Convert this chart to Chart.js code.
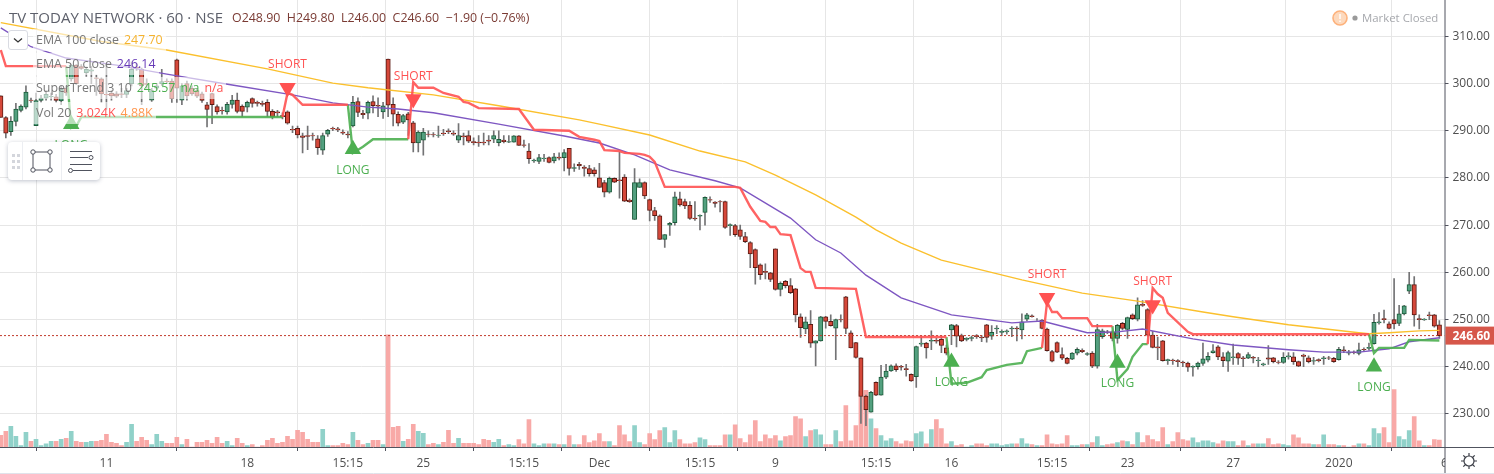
<!DOCTYPE html>
<html>
<head>
<meta charset="utf-8">
<title>TV TODAY NETWORK</title>
<script src="https://cdn.jsdelivr.net/npm/chart.js"></script>
<style>
  html, body { margin: 0; padding: 0; background: #fff; }
  body { font-family: "Open Sans", sans-serif; width: 1494px; height: 474px; overflow: hidden; position: relative; }
  #wrap { position: absolute; left: 0; top: 0; width: 1494px; height: 474px; }
  .txt { position: absolute; white-space: nowrap; }
  #title { left: 9px; top: 7px; font-size: 15px; line-height: 20px; color: #5d606b; }
  #ohlc { left: 232px; top: 8px; font-size: 12.4px; line-height: 20px; color: #7a3a33; }
  .row { position: absolute; left: 33px; height: 22px; line-height: 22px; padding: 0 3px; font-size: 12.4px; color: #777; background: rgba(255,255,255,.6); white-space: nowrap; }
  .row span { margin-left: 5px; }
  #collapse { position: absolute; left: 8px; top: 30px; width: 20px; height: 20px; border: 1px solid #d9dbe2; border-radius: 3px; background: #fff; box-sizing: border-box; }
  #tools { position: absolute; left: 8px; top: 142px; width: 92px; height: 38px; background: #fff; border-radius: 4px; box-shadow: 0 1px 4px rgba(70,80,110,.35); }
  #market { left: 1362px; top: 8px; font-size: 11.4px; line-height: 20px; color: #a6a8ad; }
  #gear { position: absolute; left: 1460px; top: 452px; }
</style>
</head>
<body>
<div id="wrap"><canvas id="chart" width="1494" height="474"></canvas></div>

<div class="txt" id="title">TV TODAY NETWORK · 60 · NSE</div>
<div class="txt" id="ohlc">O248.90&nbsp; H249.80&nbsp; L246.00&nbsp; C246.60&nbsp; −1.90 (−0.76%)</div>

<div id="collapse"><svg width="18" height="18"><path d="M5 7.5 L9 11 L13 7.5" fill="none" stroke="#333" stroke-width="1.3"/></svg></div>
<div class="row" style="top:29px">EMA 100 close<span style="color:#f5b32f">247.70</span></div>
<div class="row" style="top:53px">EMA 50 close<span style="color:#673ab7">246.14</span></div>
<div class="row" style="top:77px">SuperTrend 3 10<span style="color:#4caf50">245.57</span><span style="color:#4caf50">n/a</span><span style="color:#ff5252">n/a</span></div>
<div class="row" style="top:102px">Vol 20<span style="color:#ff5252">3.024K</span><span style="color:#ff9850">4.88K</span></div>

<div id="tools">
  <svg width="92" height="38">
    <g fill="#d4d6dc">
      <rect x="4" y="12" width="3" height="3"/><rect x="9" y="12" width="3" height="3"/>
      <rect x="4" y="18" width="3" height="3"/><rect x="9" y="18" width="3" height="3"/>
      <rect x="4" y="24" width="3" height="3"/><rect x="9" y="24" width="3" height="3"/>
    </g>
    <path d="M14.5 0 V38 M53.5 0 V38" stroke="#eceef2"/>
    <g fill="#fff" stroke="#50535e" stroke-width="1">
      <rect x="25" y="10" width="17" height="18"/>
      <circle cx="25" cy="10" r="2.2"/><circle cx="42" cy="10" r="2.2"/>
      <circle cx="25" cy="28" r="2.2"/><circle cx="42" cy="28" r="2.2"/>
    </g>
    <g stroke="#50535e" stroke-width="1" fill="#fff">
      <path d="M62 9.5 H84 M62 15.5 H80 M62 22.5 H84 M65 28.5 H84"/>
      <circle cx="83" cy="15.5" r="2"/><circle cx="62.5" cy="28.5" r="2"/>
    </g>
  </svg>
</div>

<svg style="position:absolute;left:1331px;top:9px" width="18" height="18">
  <circle cx="9" cy="9" r="7" fill="#fdd9bd" stroke="#fdb27c" stroke-width="1.6"/>
  <path d="M9 5 V10 M9 11.5 V13" stroke="#fff" stroke-width="1.4"/>
</svg>
<svg style="position:absolute;left:1352px;top:15px" width="6" height="6"><circle cx="3" cy="3" r="2.6" fill="#9a9a9a"/></svg>
<div class="txt" id="market">Market Closed</div>

<svg id="gear" width="18" height="18" viewBox="0 0 18 18">
  <g stroke="#3c3f48" stroke-width="1.2" fill="none">
    <circle cx="9" cy="9" r="5"/>
    <path d="M9 1 V4 M9 14 V17 M1 9 H4 M14 9 H17 M3.3 3.3 L5.5 5.5 M12.5 12.5 L14.7 14.7 M14.7 3.3 L12.5 5.5 M5.5 12.5 L3.3 14.7"/>
  </g>
</svg>

<script>
// hourly bars, left to right
const opens = [
  297.4,292.8,289.8,292,294.3,295,296.5,291.1,296.4,296.9,
  297.2,297.2,296.3,299,301,303.9,303.6,302.3,302.6,301.2,
  301,297.7,298,297.8,297.8,297.7,300,303.5,303,300,
  296.5,299,300,300.5,300.5,305,296.5,300,299,298.5,
  297.8,295.5,297.9,295.1,294.3,294,295.6,296.5,295.2,295,
  296.8,296,295.8,296,294.1,294,293.2,294,290.3,290.5,
  288.9,289,289,288.3,285.9,289.3,290.5,290.4,289.7,289.3,
  291,296.2,293.7,293.7,296.2,295.4,294,305.2,295.6,293.5,
  291.8,293.6,291.7,287.4,288,289.3,289.2,289,289.5,290,
  289.5,288,288.9,289,287.7,287.6,287.6,288,288.2,287.5,
  288,287.6,287.6,288.9,287,285.7,283.6,283.5,284.1,284.3,
  283.6,284.4,284.3,286.3,282,282.9,282.3,282,281.7,280,
  279,277,279.9,279.6,280.2,275.3,271.2,278,279,275.4,
  273.1,272,267,270,270.5,275.6,275,274.2,271.5,271.9,
  272.7,275.4,274.9,275,275,269.9,269.9,269,267.6,266.3,
  264.8,261.6,260.2,259.9,265,256.4,258.1,257.2,256.5,250.6,
  248,249,245,245.5,250.6,249.6,248.2,250,254.8,247.2,
  245.1,241.9,233.8,230.4,236.7,234,237.8,239.1,240.2,240.1,
  239.6,238.4,237.9,244.8,245,245.4,245.6,245.8,244,247.8,
  248.7,246.6,245.8,246,246.6,246.3,248.9,246.5,248,247.3,
  247.4,248,248.2,247.8,250.1,250.8,250,249.9,248,243.2,
  245.1,242.6,241.8,241.6,242.9,243.5,242.6,242.9,240.1,246.4,
  247.4,247.4,246,249.2,247.9,251,250.1,253.2,252.1,246.7,
  244.2,245.5,241.3,241.4,241.3,241,240.8,239.9,240,240.7,
  241.4,243,244.2,242.1,241.2,241.9,242.8,241.9,241.8,242,
  241.3,240.4,241.9,241.9,241,240.9,242.1,242.1,241.1,242.5,
  241.9,241.2,241.5,241.7,241.9,241.8,241.5,243.6,242.9,243.1,
  242.8,243.7,243.9,244.9,249.3,250.2,249.1,250,249.2,251.2,
  256,257.4,250.2,249.9,251,251,248.9
];
const highs = [
  297.4,293,293,295.8,295.5,299.5,296.9,298,297.5,298.5,
  298,297.7,299.5,299.5,304,304,304,303.5,303.6,301.8,
  301.2,304,298.5,298.3,299,299,304.6,304.2,303.3,301,
  299,300,303,301,301,305.2,300,300.5,299.5,299,
  298.2,296,298,295.5,295,296,297.5,298,295.5,296.3,
  297,296.3,296.3,296.6,294.5,294.3,293.8,294.2,291,291,
  289.5,291,289.5,289,289.5,290.3,290.8,290.7,290.2,289.8,
  297.3,297,294.3,296.3,297.4,297,296,305.2,297,294,
  293.5,293.9,292,290,290.5,290,289.6,291,290.3,290.4,
  290,291.5,289.5,290,288.5,289,289.5,289,290,290,
  289,289,289,289,288,287.3,284,285,285,284.5,
  285.2,285.3,286,286.3,283,283.3,282.6,282.7,282.2,283.1,
  279.5,280.2,280,285.5,280.7,275.6,282,279.8,279.2,275.5,
  273.8,272.2,268,270.6,277,277,275.5,275,275,272.2,
  276,276,275,275.2,275.1,270.3,270.2,270,268.5,266.5,
  265,261.8,261.8,260,265,258,258.3,258.7,256.6,251.2,
  250.5,251.9,245.5,250.7,250.7,251,250.1,251,254.9,247.6,
  245.2,241.9,234,234.8,236.8,240.3,240.5,240.4,240.6,240.3,
  240.5,238.5,244.4,246.5,245.2,247.6,246,246.5,244.6,249,
  249,246.9,246.2,246.5,246.8,246.6,249,248.7,248.7,247.8,
  247.8,248.5,248.5,251.2,251.3,251,250.2,250,248.2,243.5,
  245.3,244,242,243,244,243.8,243,243.2,249,248,
  247.7,247.6,249,249.4,250.5,251.2,254.6,254,252.3,247.5,
  246.3,245.6,241.6,241.6,241.5,241.2,241,240.2,241,245,
  243,244.7,244.5,243,243.3,244.8,243,242.2,243,242.2,
  242,240.8,244.5,242,241.3,243,243,243,241.2,242.7,
  242.3,242,241.7,242.2,242.2,242,244.1,244.3,243.5,243.4,
  245,244,245,251.1,251.5,252,249.5,258.7,253,253,
  260,259.1,251,250.2,251.6,251.1,249.8
];
const lows = [
  292.8,288.5,289,291,294,294.6,296,291.1,296,296.5,
  296.5,296,295.5,297.5,300.5,299.8,303,301.5,300,297.5,
  296,294.5,296.5,297,297,297,299.5,302.8,295.5,299,
  296.2,298.6,299.6,300,296,296,295.5,296.5,297.5,297,
  296,290.8,291.5,293.5,293.5,293.5,294.8,293.8,293,294,
  295,295.2,295.2,293,292.5,293,292.5,291.4,289.6,288.5,
  285.3,286,288,285,285,288.8,290,289.8,289.2,288.5,
  290.8,293,292.6,292.5,293.8,293,292.6,293,291,291,
  291.5,289,285.5,285.5,284.8,288.7,288.7,288.6,289,289.4,
  289,287.5,287,287.5,287,286.7,287,287,287.5,286.8,
  287.4,287.5,287.6,286.9,286.5,283.1,283.3,283,283.5,283.2,
  283.2,283.8,281.5,280.6,281.4,281.8,280.4,280.4,280.4,278,
  276,276.8,279,275.7,275,274.8,271.2,278,275.6,270.9,
  271,267,265.3,267.8,270,274,273.5,271.2,271,269,
  270,274.8,273.8,272.8,269.3,267.8,267.6,267,266.3,261,
  257.5,258.5,258.6,258,256.2,255,256.7,255.5,249.5,246.2,
  247,244.1,240.2,245.4,248.2,248.6,241.5,249.5,247,244,
  241.8,228,227.5,230.4,233.9,234,237.5,239,239,239.3,
  238,236.9,235.6,244.3,241.8,243.6,245,243,242.5,244.7,
  244.2,245.3,245.5,245.5,246,245.3,245.2,245.8,247,246.6,
  246.9,246.4,245.5,245.9,249.7,250.5,249.8,248,243.3,241,
  243,241.5,240.6,241.5,242.5,243,242.4,239.8,239.7,246,
  247,245.5,245,247.8,246,250,249.7,252.8,246.5,244,
  241.5,241.2,240.5,240.5,240,240,239,238,239.5,240.3,
  241,242.9,241.5,240,239,240.5,240.5,240,241.7,240.8,
  240,240.2,240.5,240.8,240.6,240.7,241.6,240.5,240,240,
  240.8,240.5,241,240.5,241.5,240.9,241.4,243,242.5,242.7,
  242.5,243.4,243.5,244.8,249,249.3,248,248,248.7,251,
  255.5,248.6,248,249.8,250,248.4,246
];
const closes = [
  292.8,289.5,292,294.6,295.2,298.2,296.4,296.4,296.9,297.7,
  297.3,296.4,298.8,298,303.9,300,303.2,303,302.9,301.1,
  297.8,297.6,297.4,297.3,297.7,298.5,303,303.3,299.5,299.8,
  298.5,299.5,300.4,300.4,296.8,299,299.5,297.4,297.8,297.3,
  296.4,294.5,295.5,294,294.2,295.6,296.5,294.1,294.1,296,
  295.8,295.8,295.6,294.1,293,293.8,293,291.6,290.2,289.1,
  288.6,288.8,288.9,286.4,289,290.1,290.4,290.2,289.5,289.1,
  296,293.9,293.4,296,295.3,295.2,295.3,295.4,293.5,291.6,
  293.2,292.3,287.4,289.7,289.7,289.2,289.1,289.1,289.4,289.8,
  289.3,289,288.7,287.8,287.5,287.4,287.4,287.8,289,288.2,
  287.7,287.7,288.9,286.9,286.9,284.1,283.8,284.3,284.2,283.3,
  284.5,284.2,285.4,282,282.2,282.6,282,280.9,280.9,278,
  277,279.9,279.1,279.4,275.1,275,279,279,276.2,273.1,
  272,267,268,270.4,276,274.3,274.1,271.4,271.3,272.1,
  275.9,275.3,274.6,274.9,269.5,270.1,268,267.6,266.5,263.9,
  261,259.5,260,258.5,256.4,257.7,257.2,255.7,251,248.3,
  249.5,245,245.5,250.6,249.6,248.7,250,249.9,248.1,244,
  242,233.7,230.9,234.6,234,237.8,239.1,240.2,239.4,239.9,
  239.4,237,244.3,245,244,245.6,245.4,244.5,242.9,248.9,
  246.5,245.5,246,246.2,246.4,246.1,246.2,247.3,248.2,247.5,
  247.6,248.2,248,249.5,251,250.6,250,248.1,243.4,241.2,
  243.1,241.8,240.7,242.9,243.7,243.2,242.8,240.1,247.9,247.6,
  247.3,246,248.8,248.1,250.4,250.2,253.1,253,246.7,244.1,
  244,241.3,241.5,241.3,241.1,240.8,239.9,240.1,240.8,241.7,
  242.2,243.4,242.1,241.3,243,242.1,241.8,241.7,242.6,241.8,
  241.4,240.6,241.6,241.1,240.9,242,242.3,241.1,240.1,242.2,
  241.1,241.3,241.3,241.9,241.8,241.1,243.7,243.4,243.1,243,
  243.6,243.6,244.1,249.4,249.5,250,248.1,249.1,251.2,252.9,
  257.4,251,250,250.1,250.8,248.6,246.6
];
// volume in thousands
const volumes = [
  5,6.8,8.9,4.6,0.6,6.3,2.4,3.3,0.6,1.4,
  2.4,2.4,3.3,3.7,6.8,2.4,2,2,2.4,2.4,
  2.9,5.5,2,1.6,0.6,2,9.8,2.4,4.2,2.9,
  1,5.5,2.4,1.6,1.6,4.2,1,3.3,0,2,
  2,2.9,1.6,4.2,1.6,2.4,0.6,3.7,1.6,0.6,
  1,0,0.6,2.9,3.7,1.6,2,4.6,3.3,7.2,
  6.3,3.3,2,2,7.6,0.6,0.6,0.6,1.6,1,
  6.3,2.9,1,1.6,2.9,2.9,1,48.4,8.5,8.9,
  2.4,3.3,9.8,6.8,5.9,1,1.6,1,2,7.2,
  1.6,3.7,1.6,1.6,1.6,1,3.3,2.9,2,3.3,
  0.6,1,0.6,3.2,1.4,11.8,1.4,0.6,1.4,1.4,
  1.4,1,1,4.9,1,1,4.9,1.9,2.7,5.8,
  2.3,2.3,0.6,9.2,5.3,2.3,9.2,1.9,1,5.8,
  3.2,7.1,8.4,1.9,7.1,3.2,1.4,1.4,1.9,4,
  3.2,0.6,0.6,0.6,5.3,5.3,9.6,3.6,1.9,5.3,
  11.4,2.3,5.3,3.6,4.9,2.7,4.5,4.9,13.1,12.2,
  4.5,7.1,7.5,5.3,1,1,7.1,2.3,17.9,2.7,
  9.2,24.2,24.5,12.2,7.9,4.9,2.7,3.6,2.3,1.4,
  2.7,2.3,5.8,6.6,1.4,7.5,11.8,7.9,1.4,2.3,
  0.6,1,0,0.6,1.4,1.4,0.6,1.4,1.4,0.6,
  1,1.4,1.4,3.6,1.4,1,0.6,0.6,5.3,1.4,
  1,1.4,4.9,0.6,0.6,1,1,1.9,4.5,0.6,
  1,1.4,1.9,2.7,2.3,1,6.2,1.9,4.9,3.2,
  2.3,8.4,1,2.3,6.2,3.2,2.7,4,1.9,2.7,
  2.7,1.9,1.4,2.7,2.3,2.3,0.6,2.7,0.6,1.4,
  1.4,1.4,3.6,1,1.4,1,0.6,5.3,4,1.4,
  1.4,1,1,5.3,1,1,0.6,0.6,0,0.6,
  1.4,1.4,0.6,7.9,5.8,8.4,1.9,24.8,4.5,3.2,
  7.1,13.1,2.7,0.6,0.6,3.2,3.024
];

const ema100Idx = [0,20,33,53,66,73,86,99,115,119,129,139,148,154,162,170,174,179,187,203,215,226,239,245,256,270,272,276,282,286];
const ema100 = [312.9,308.9,307.1,303.1,300.1,299.1,297.6,295.3,292.3,291.4,289.1,285.7,283.4,280.6,276.4,271.7,269,266.2,262.6,258.4,255.6,253.9,251.6,250.6,248.9,247.2,247,247.2,247.6,247.7];
const ema50Idx = [0,6,13,23,33,46,58,66,73,79,86,99,112,119,126,133,142,147,157,162,167,172,179,189,201,207,216,222,227,237,245,256,263,270,276,280,286];
const ema50 = [311.8,307.8,305.4,303.9,302,299.7,297.6,295.9,295,294.6,293.8,291.4,288.9,287.4,284.9,281.7,279.4,277.9,271.5,266.9,264.1,259.4,254.6,251,249.3,249.7,247.2,247.4,248,245.9,244.6,243.6,243.1,243.1,243.8,245.3,246.14];

const stRedIdx = [0,1,13, 13, 56,57,58,60,69, 69, 81,82,83,86,88,91,92,93,95,103,106,113,115,118,119,120,123,124,127,128,129,130,132,146,147,149,151,152,153,154,155,157,159,160,161,162,170,172,188, 188, 207,208,209,210,211,216,217,221, 221, 228,229,230,231,232,236,237,272];
const stRed = [307.1,303.7,303.7, null, 292.9,298,297.6,295.5,295.5, null, 288.2,300.3,299.1,299.1,298,297.2,296.1,295.9,294.8,294.6,290.2,290,288.7,288.1,287.8,285.9,285.7,285.3,285.1,284.9,284.5,283.4,278.1,278.1,277.9,273.9,270.9,270.7,269.6,269.6,268.1,267.9,260.9,260.1,260.1,256.7,256.5,246.3,246.3, null, 244,253.7,251.6,251.6,250.3,250.3,248.6,248.6, null, 244.8,256.7,255.4,254.6,251.4,247.4,246.9,246.9];
const stGreenIdx = [13,14,15,16,56, 56, 69,70,72,74,81, 81, 188,189,192,195,196,200,203,204,207, 207, 221,222,224,225,227,228, 228, 272,273,274,279,280,286];
const stGreen = [303.7,290.6,291,292.9,292.9, null, 295.5,285.3,286.6,288.2,288.2, null, 246.3,236.4,236.6,237.8,239.3,240.4,240.8,243.3,244, null, 248.6,237.2,239.5,242.1,244.8,244.8, null, 246.9,242.9,244,244,245.7,245.57];

const longIdx = [14,70,189,222,273];
const longVal = [291.4,286.1,241,240.8,240];
const shortIdx = [57,82,208,229];
const shortVal = [299.1,296.7,254.6,253.1];

const priceTicks = [230,240,250,260,270,280,290,300,310];
const timeTickIdx = [21,49,69,84,104,119,139,154,174,189,209,224,245,266,287];
const timeTickLabels = ['11','18','15:15','25','15:15','Dec','15:15','9','15:15','16','15:15','23','27','2020','6'];
const lastPrice = 246.60;

const FONT = '"Open Sans", sans-serif';
const AXIS = '#50535e';
const isUp = opens.map((o, i) => closes[i] >= o);

function points(xs, ys) {
    return xs.map((x, i) => ({ x: x, y: ys[i] }));
}

// last price box, axis lines and marker captions
const extras = {
    id: 'extras',
    beforeDatasetsDraw(chart) {
        const { ctx, chartArea: a, width, height } = chart;
        ctx.save();
        // the last time label is cut off by the price scale
        ctx.fillStyle = '#fff';
        ctx.fillRect(a.right + 0.5, a.bottom + 1, width - a.right, height - a.bottom);
        ctx.strokeStyle = AXIS;
        ctx.lineWidth = 1;
        ctx.beginPath();
        ctx.moveTo(a.right + 0.5, 0);
        ctx.lineTo(a.right + 0.5, height - 1);
        ctx.moveTo(0, a.bottom + 0.5);
        ctx.lineTo(width, a.bottom + 0.5);
        ctx.stroke();
        ctx.strokeStyle = '#e0e3eb';
        ctx.beginPath();
        ctx.moveTo(0, height - 0.5);
        ctx.lineTo(width, height - 0.5);
        ctx.stroke();
        ctx.restore();
    },
    afterDatasetsDraw(chart) {
        const { ctx } = chart;
        const x = chart.scales.x, y = chart.scales.y;
        ctx.save();
        ctx.font = '12px ' + FONT;
        ctx.textAlign = 'center';
        ctx.textBaseline = 'middle';
        ctx.fillStyle = '#ff5252';
        shortIdx.forEach((v, i) => ctx.fillText('SHORT', x.getPixelForValue(v), y.getPixelForValue(shortVal[i]) - 23));
        ctx.fillStyle = '#4caf50';
        longIdx.forEach((v, i) => ctx.fillText('LONG', x.getPixelForValue(v), y.getPixelForValue(longVal[i]) + 21));
        ctx.restore();
    },
    afterDraw(chart) {
        const { ctx, chartArea: a, width } = chart;
        const py = chart.scales.y.getPixelForValue(lastPrice);
        ctx.save();
        ctx.fillStyle = '#d6574a';
        ctx.fillRect(a.right + 1, py - 9, width - a.right, 18);
        ctx.fillStyle = '#fff';
        ctx.font = 'bold 12px ' + FONT;
        ctx.textAlign = 'left';
        ctx.textBaseline = 'middle';
        ctx.fillText(lastPrice.toFixed(2), a.right + 8, py + 0.5);
        ctx.restore();
    }
};

const allIdx = opens.map((o, i) => i);

new Chart(document.getElementById('chart').getContext('2d'), {
    type: 'bar',
    plugins: [extras],
    data: {
        datasets: [
            {
                label: 'Vol',
                yAxisID: 'vol',
                order: 10,
                grouped: false,
                barThickness: 4,
                data: points(allIdx, volumes),
                backgroundColor: isUp.map(u => u ? '#90d1c9' : '#f8a9a7')
            },
            {
                label: 'Wicks',
                order: 9,
                grouped: false,
                barThickness: 1,
                data: allIdx.map(i => ({ x: i, y: [lows[i], highs[i]] })),
                backgroundColor: '#737375'
            },
            {
                label: 'Bodies',
                order: 8,
                grouped: false,
                barThickness: 4.4,
                borderWidth: 1,
                borderSkipped: false,
                data: allIdx.map(i => ({ x: i, y: [opens[i], closes[i]] })),
                backgroundColor: isUp.map(u => u ? '#53a07f' : '#d5483a'),
                borderColor: isUp.map(u => u ? '#1b5b3a' : '#5c1a12')
            },
            {
                type: 'line', label: 'EMA 100', order: 7,
                data: points(ema100Idx, ema100),
                borderColor: '#fbc02d', borderWidth: 1.4, pointRadius: 0
            },
            {
                type: 'line', label: 'EMA 50', order: 7,
                data: points(ema50Idx, ema50),
                borderColor: '#7e57c2', borderWidth: 1.4, pointRadius: 0
            },
            {
                type: 'line', label: 'Last', order: 7,
                data: [{ x: -0.16, y: lastPrice }, { x: 287.02, y: lastPrice }],
                borderColor: '#c0392b', borderWidth: 1, borderDash: [2, 2], pointRadius: 0
            },
            {
                type: 'line', label: 'SuperTrend down', order: 6,
                data: points(stRedIdx, stRed),
                borderColor: 'rgba(255,82,82,.9)', borderWidth: 2.4, pointRadius: 0, spanGaps: false
            },
            {
                type: 'line', label: 'SuperTrend up', order: 6,
                data: points(stGreenIdx, stGreen),
                borderColor: 'rgba(76,175,80,.9)', borderWidth: 2.4, pointRadius: 0, spanGaps: false
            },
            {
                type: 'line', label: 'LONG', order: 5, showLine: false,
                data: points(longIdx, longVal),
                pointStyle: 'triangle', pointRadius: 9.5, pointBorderWidth: 0,
                pointBackgroundColor: '#4caf50'
            },
            {
                type: 'line', label: 'SHORT', order: 5, showLine: false,
                data: points(shortIdx, shortVal),
                pointStyle: 'triangle', pointRadius: 9.5, pointRotation: 180, pointBorderWidth: 0,
                pointBackgroundColor: '#ff5252'
            }
        ]
    },
    options: {
        responsive: false,
        animation: false,
        layout: { padding: 0, autoPadding: false },
        plugins: { legend: { display: false }, tooltip: { enabled: false } },
        scales: {
            x: {
                type: 'linear',
                min: -0.16,
                max: 287.02,
                offset: false,
                afterBuildTicks: axis => { axis.ticks = timeTickIdx.map(v => ({ value: v })); },
                afterFit: axis => { axis.height = 27; axis.paddingLeft = 0; axis.paddingRight = 0; },
                grid: { color: '#e6e6e6', tickColor: AXIS, tickLength: 4 },
                border: { display: false },
                ticks: {
                    autoSkip: false,
                    maxRotation: 0,
                    padding: 5,
                    color: '#4f4f4f',
                    font: { family: FONT, size: 12 },
                    callback: v => timeTickLabels[timeTickIdx.indexOf(v)]
                }
            },
            y: {
                position: 'right',
                min: 223,
                max: 317.7,
                afterBuildTicks: axis => { axis.ticks = priceTicks.map(v => ({ value: v })); },
                afterFit: axis => { axis.width = 49.5; axis.paddingTop = 0; axis.paddingBottom = 0; },
                grid: { color: '#e6e6e6', tickColor: AXIS, tickLength: 4 },
                border: { display: false },
                ticks: {
                    z: 1,
                    padding: 4,
                    color: '#4f4f4f',
                    font: { family: FONT, size: 12 },
                    callback: v => v.toFixed(2)
                }
            },
            vol: { display: false, min: 0, max: 193 }
        }
    }
});
</script>
</body>
</html>
